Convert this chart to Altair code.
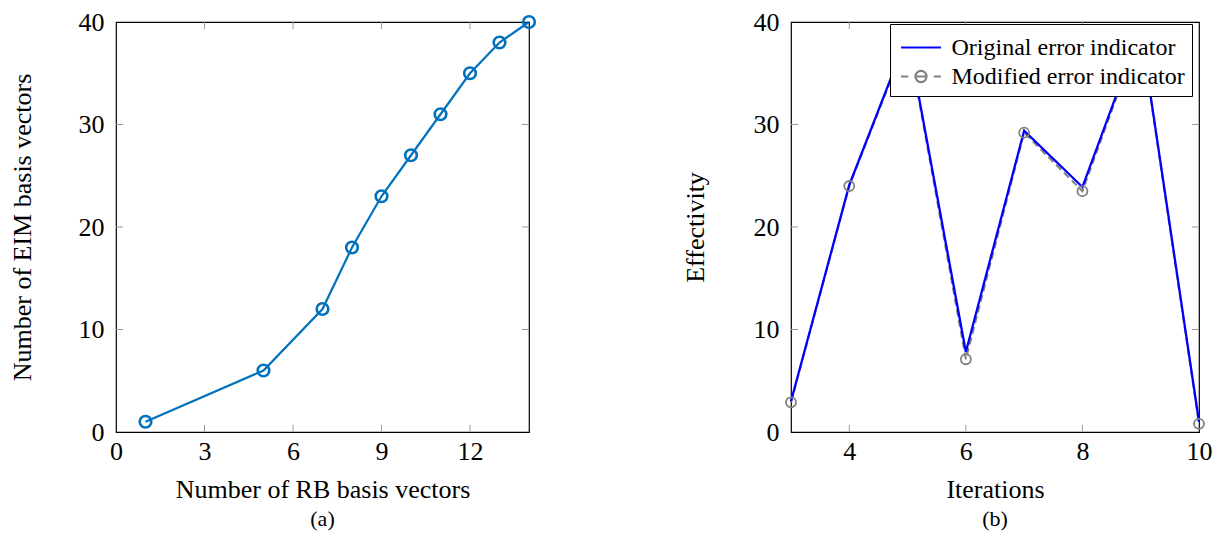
import altair as alt
import pandas as pd

# ---- data: panel (a)
rb_vectors = [1, 5, 7, 8, 9, 10, 11, 12, 13, 14]
eim_vectors = [1, 6, 12, 18, 23, 27, 31, 35, 38, 40]
a_xticks = [0, 3, 6, 9, 12]
a_yticks = [0, 10, 20, 30, 40]

# ---- data: panel (b)
iterations = [3, 4, 5, 6, 7, 8, 9, 10]
original_eff = [3.0, 24.1, 38.7, 7.8, 29.4, 23.9, 39.3, 1.0]
modified_eff = [2.9, 24.0, 38.5, 7.1, 29.2, 23.5, 39.1, 0.8]
b_xticks = [4, 6, 8, 10]
b_yticks = [0, 10, 20, 30, 40]
series_names = ["Original error indicator", "Modified error indicator"]
series_colors = ["#0000FF", "#808080"]

FONT = "Liberation Serif"
W_A, W_B, H = 413, 408, 410
TICK = 7
TICK_COLOR = "#9a9a9a"
LBL = 26
TTL = 26

# legend glyphs (unit coordinates, scaled by the legend symbol size)
SOLID_GLYPH = "M-1.33,0H1.33"
DASH_CIRCLE_GLYPH = ("M-1.33,0H-0.85M-0.37,0H0.37M0.37,0A0.37,0.37,0,1,1,-0.37,0"
                     "A0.37,0.37,0,1,1,0.37,0M0.85,0H1.33")


def tick_rules(xticks, yticks, xdom, ydom, w):
    inner_x = [t for t in xticks if xdom[0] < t < xdom[1]]
    inner_y = [t for t in yticks if ydom[0] < t < ydom[1]]
    dx = pd.DataFrame({"t": inner_x})
    dy = pd.DataFrame({"t": inner_y})
    xs = alt.Scale(domain=xdom, nice=False, zero=False)
    ys = alt.Scale(domain=ydom, nice=False, zero=False)
    bot = alt.Chart(dx).mark_rule(color=TICK_COLOR, strokeWidth=1).encode(
        x=alt.X("t:Q", scale=xs), y=alt.value(H), y2=alt.value(H - TICK))
    top = alt.Chart(dx).mark_rule(color=TICK_COLOR, strokeWidth=1).encode(
        x=alt.X("t:Q", scale=xs), y=alt.value(0), y2=alt.value(TICK))
    lef = alt.Chart(dy).mark_rule(color=TICK_COLOR, strokeWidth=1).encode(
        y=alt.Y("t:Q", scale=ys), x=alt.value(0), x2=alt.value(TICK))
    rig = alt.Chart(dy).mark_rule(color=TICK_COLOR, strokeWidth=1).encode(
        y=alt.Y("t:Q", scale=ys), x=alt.value(w), x2=alt.value(w - TICK))
    return [bot, top, lef, rig]


def xaxis(title, values):
    return alt.Axis(title=title, values=values, format="d", tickSize=0, domain=False, grid=False,
                    labelFont=FONT, labelFontSize=LBL, labelColor="black", labelPadding=6,
                    titleFont=FONT, titleFontSize=TTL, titleFontWeight="normal",
                    titleColor="black", titlePadding=12, labelFlush=False)


def yaxis(title, values, tpad):
    return alt.Axis(title=title, values=values, format="d", tickSize=0, domain=False, grid=False,
                    labelFont=FONT, labelFontSize=LBL, labelColor="black", labelPadding=12,
                    titleFont=FONT, titleFontSize=TTL, titleFontWeight="normal",
                    titleColor="black", titlePadding=tpad, labelFlush=False)


def caption(text):
    return alt.TitleParams(text, orient="bottom", font=FONT, fontSize=22,
                           fontWeight="normal", color="black", offset=7, anchor="middle")


# ---- panel (a)
df_a = pd.DataFrame({"rb": rb_vectors, "eim": eim_vectors})
xs_a = alt.Scale(domain=[0, 14], nice=False, zero=False)
ys_a = alt.Scale(domain=[0, 40], nice=False, zero=False)
base_a = alt.Chart(df_a).encode(
    x=alt.X("rb:Q", scale=xs_a, axis=xaxis("Number of RB basis vectors", a_xticks)),
    y=alt.Y("eim:Q", scale=ys_a, axis=yaxis("Number of EIM basis vectors", a_yticks, 43)),
)
line_a = base_a.mark_line(color="#0072BD", strokeWidth=2.2)
pts_a = base_a.mark_point(color="#0072BD", filled=False, size=135, strokeWidth=2.6, opacity=1)
panel_a = alt.layer(line_a, pts_a, *tick_rules(a_xticks, a_yticks, [0, 14], [0, 40], W_A)).properties(
    width=W_A, height=H, title=caption("(a)"))

# ---- panel (b)
df_orig = pd.DataFrame({"it": iterations, "eff": original_eff})
df_mod = pd.DataFrame({"it": iterations, "eff": modified_eff})
df_leg = pd.DataFrame({"series": series_names})
xs_b = alt.Scale(domain=[3, 10], nice=False, zero=False)
ys_b = alt.Scale(domain=[0, 40], nice=False, zero=False)
color_scale = alt.Scale(domain=series_names, range=series_colors)
shape_scale = alt.Scale(domain=series_names, range=[SOLID_GLYPH, DASH_CIRCLE_GLYPH])
legend = alt.Legend(title=None, orient="none", legendX=99, legendY=2,
                    labelFont=FONT, labelFontSize=24, labelColor="black",
                    labelExpr="datum.label + '\u00a0\u00a0\u00a0'",
                    symbolSize=900, symbolStrokeWidth=2.2, symbolOffset=7.5,
                    strokeColor="black", fillColor="white", padding=7,
                    rowPadding=0, labelOffset=14, labelLimit=500, symbolOpacity=1)
xenc = alt.X("it:Q", scale=xs_b, axis=xaxis("Iterations", b_xticks))
yenc = alt.Y("eff:Q", scale=ys_b, axis=yaxis("Effectivity", b_yticks, 45))

# empty layer that only carries the legend (colour + glyph per series)
legend_layer = alt.Chart(df_leg).transform_filter("false").mark_point(filled=False, opacity=1).encode(
    color=alt.Color("series:N", scale=color_scale, legend=legend, sort=series_names),
    shape=alt.Shape("series:N", scale=shape_scale, legend=legend, sort=series_names))
mod_line = alt.Chart(df_mod).mark_line(strokeWidth=2, color=series_colors[1], strokeDash=[7, 4]).encode(
    x=xenc, y=yenc)
orig_line = alt.Chart(df_orig).mark_line(strokeWidth=2.3, color=series_colors[0]).encode(
    x=xenc, y=yenc)
mod_pts = alt.Chart(df_mod).mark_point(
    color=series_colors[1], filled=False, size=100, strokeWidth=1.8, opacity=1).encode(x=xenc, y=yenc)

panel_b = alt.layer(legend_layer, mod_line, orig_line, mod_pts,
                    *tick_rules(b_xticks, b_yticks, [3, 10], [0, 40], W_B)).properties(
    width=W_B, height=H, title=caption("(b)"))

chart = alt.hconcat(panel_a, panel_b, spacing=140).resolve_scale(
    color="independent", shape="independent"
).resolve_legend(color="independent", shape="independent").configure(
    padding=0, font=FONT
).configure_view(stroke="black", strokeWidth=1.2)

chart.save("out.html", embed_options={"renderer": "svg", "actions": False})
